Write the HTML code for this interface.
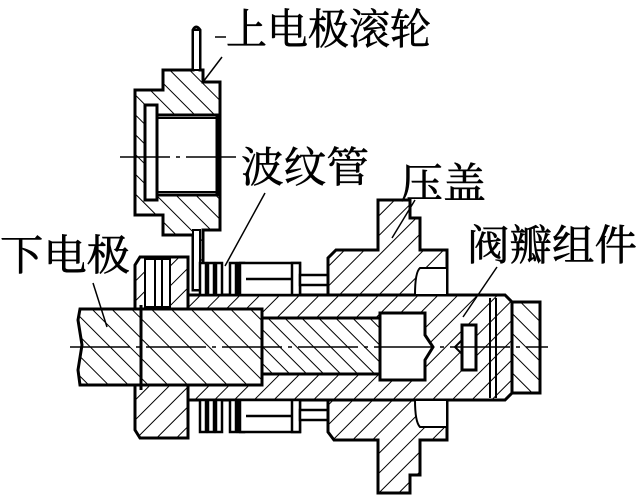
<!DOCTYPE html>
<html><head><meta charset="utf-8"><style>
html,body{margin:0;padding:0;background:#fff;}
svg{display:block;}
text{font-family:"Liberation Serif","Noto Serif CJK SC","Noto Sans CJK SC",serif;fill:#000;stroke:#000;stroke-width:0.6;}
</style></head><body>
<svg width="640" height="496" viewBox="0 0 640 496" xmlns="http://www.w3.org/2000/svg">
<defs>
<pattern id="hf" width="14" height="14" patternUnits="userSpaceOnUse" patternTransform="rotate(45)">
<rect width="14" height="14" fill="#fff"/><line x1="0" y1="0" x2="0" y2="14" stroke="#000" stroke-width="2"/></pattern>
<pattern id="hb" width="14" height="14" patternUnits="userSpaceOnUse" patternTransform="rotate(-45)">
<rect width="14" height="14" fill="#fff"/><line x1="0" y1="0" x2="0" y2="14" stroke="#000" stroke-width="2"/></pattern>
<pattern id="hb2" width="12" height="12" patternUnits="userSpaceOnUse" patternTransform="rotate(-45)">
<rect width="12" height="12" fill="#fff"/><line x1="0" y1="0" x2="0" y2="12" stroke="#000" stroke-width="2"/></pattern>
</defs>
<g stroke="#000" stroke-width="3" stroke-linejoin="miter">
<path d="M193,30 Q196,24 200,30 L200,70 L203,70 L203,82 L220,82 L220,230 L203,230 L203,290 L193,290 L193,235 L163,235 L163,215 L135,215 L135,90 L163,90 L163,70 L193,70 Z" fill="url(#hb)"/>
<rect x="193" y="30" width="7" height="40" fill="#fff" stroke-width="2"/>
<rect x="193" y="230" width="7" height="60" fill="#fff" stroke-width="2"/>
<rect x="157" y="115" width="60" height="80" fill="#fff"/>
<rect x="145" y="105" width="12" height="95" fill="#fff"/>
<line x1="157" y1="118" x2="217" y2="118" stroke-width="2"/>
<line x1="157" y1="192" x2="217" y2="192" stroke-width="2"/>
<path d="M188,295 L505,295 L512,302 L512,393 L505,400 L188,400 Z" fill="url(#hf)"/>
<path d="M140,257 L188,257 L188,438 L140,438 L135,430 L135,265 Z" fill="url(#hf)"/>
<rect x="145" y="259" width="25" height="48" fill="#fff" stroke-width="2"/>
<line x1="155" y1="259" x2="155" y2="307" stroke-width="2"/>
<line x1="162" y1="259" x2="162" y2="307" stroke-width="2"/>
<g fill="#fff" stroke-width="2.5">
<rect x="200" y="263" width="6" height="32"/><rect x="208" y="263" width="6" height="32"/><rect x="216" y="263" width="6" height="32"/>
<rect x="230" y="263" width="6" height="32"/><rect x="238" y="263" width="6" height="32"/>
<rect x="240" y="263" width="60" height="32"/><rect x="292" y="263" width="8" height="32"/>
<line x1="246" y1="279" x2="292" y2="279"/>
<rect x="300" y="275" width="30" height="10"/>
<rect x="200" y="400" width="6" height="32"/><rect x="208" y="400" width="6" height="32"/><rect x="216" y="400" width="6" height="32"/>
<rect x="230" y="400" width="6" height="32"/><rect x="238" y="400" width="6" height="32"/>
<rect x="240" y="400" width="60" height="32"/><rect x="292" y="400" width="8" height="32"/>
<line x1="246" y1="416" x2="292" y2="416"/>
<rect x="300" y="410" width="30" height="10"/>
</g>
<path d="M378,200 L410,200 L410,218 L420,218 L420,250 L447,250 L447,295 L328,295 L328,258 L336,250 L378,250 Z" fill="url(#hf)"/>
<path d="M328,400 L447,400 L447,440 L420,440 L420,475 L410,475 L410,493 L378,493 L378,440 L334,440 L328,432 Z" fill="url(#hf)"/>
<path d="M420,268 L447,268 L447,295 L415,295 Q415,272 420,268 Z" fill="#fff" stroke-width="2"/>
<path d="M420,427 L447,427 L447,400 L415,400 Q415,422 420,427 Z" fill="#fff" stroke-width="2"/>
<path d="M80,309 L141,309 L141,385 L80,385 L78,370 L82,345 L78,320 Z" fill="url(#hb)"/>
<rect x="141" y="309" width="121" height="76" fill="url(#hb)"/>
<line x1="141" y1="305" x2="141" y2="390" stroke-width="3"/>
<rect x="262" y="318" width="118" height="56" fill="url(#hb2)"/>
<path d="M380,313 L425,313 L425,335 L433,347 L425,360 L425,380 L380,380 Z" fill="#fff"/>
<rect x="512" y="302" width="28" height="91" fill="url(#hb)"/>
<line x1="490" y1="298" x2="490" y2="398" stroke-width="2"/>
<line x1="496" y1="298" x2="496" y2="398" stroke-width="2"/>
<rect x="462" y="325" width="14" height="45" fill="#fff"/>
<path d="M462,340 L455,347 L462,354" fill="none" stroke-width="2"/>
</g>
<g stroke="#000" stroke-width="1.5" fill="none">
<line x1="70" y1="347" x2="548" y2="347" stroke-dasharray="60,6,4,6"/>
<line x1="120" y1="157" x2="238" y2="157" stroke-dasharray="50,6,4,6"/>
<line x1="215" y1="37" x2="226" y2="37"/>
<line x1="222" y1="57" x2="203" y2="82"/>
<line x1="265" y1="193" x2="225" y2="266"/>
<line x1="415" y1="200" x2="392" y2="238"/>
<line x1="497" y1="267" x2="463" y2="317"/>
<line x1="93" y1="283" x2="107" y2="327"/>
</g>
<g font-size="42">
<text x="226" y="44" textLength="205" lengthAdjust="spacingAndGlyphs">上电极滚轮</text>
<text x="241" y="182" textLength="128" lengthAdjust="spacingAndGlyphs">波纹管</text>
<text x="400" y="198" textLength="86" lengthAdjust="spacingAndGlyphs">压盖</text>
<text x="467" y="260" textLength="170" lengthAdjust="spacingAndGlyphs">阀瓣组件</text>
<text x="0" y="270" textLength="130" lengthAdjust="spacingAndGlyphs">下电极</text>
</g>
</svg>
</body></html>
